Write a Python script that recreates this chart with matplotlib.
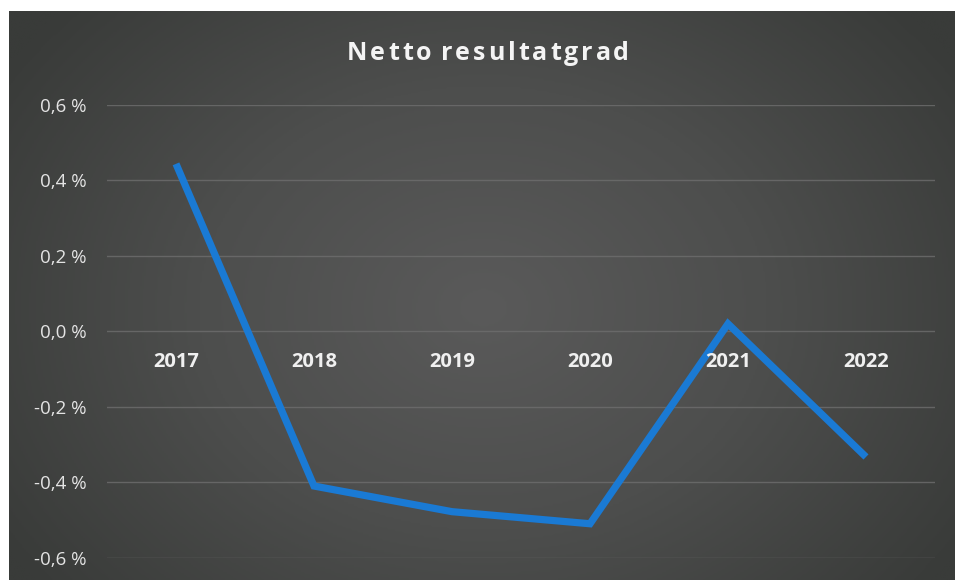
import numpy as np
import matplotlib
matplotlib.use("Agg")
import matplotlib.pyplot as plt
from matplotlib.colors import LinearSegmentedColormap
from matplotlib.ticker import FuncFormatter

years = ["2017", "2018", "2019", "2020", "2021", "2022"]
netto_resultatgrad = [0.444, -0.41, -0.478, -0.51, 0.02, -0.333]  # prosent
y_ticks = [-0.6, -0.4, -0.2, 0.0, 0.2, 0.4, 0.6]
title = "Netto resultatgrad"

W, H, DPI = 955, 580, 100
fig = plt.figure(figsize=(W / DPI, H / DPI), dpi=DPI, facecolor="white")

# Chart area with a soft radial shading
bg = fig.add_axes([9 / W, 0, 1 - 9 / W, 1 - 11 / H])
bg.set_axis_off()
ny, nx = 300, 500
yy, xx = np.mgrid[0:ny, 0:nx]
cx, cy = nx * 0.50, ny * 0.52
r = np.sqrt(((xx - cx) / (nx * 0.60)) ** 2 + ((yy - cy) / (ny * 0.78)) ** 2)
r = np.clip(r, 0, 1)
shade = LinearSegmentedColormap.from_list("shade", ["#5a5a5a", "#4d4e4d", "#393b39"])
bg.imshow(r, cmap=shade, aspect="auto", extent=[0, 1, 0, 1], vmin=0, vmax=1)
bg.set_xlim(0, 1)
bg.set_ylim(0, 1)

ax = fig.add_axes([107 / W, 1 - 557.7 / H, 828 / W, (557.7 - 105) / H])
ax.set_facecolor("none")
x = np.arange(len(years))
ax.plot(x, netto_resultatgrad, color="#1a7ad4", lw=5.2, solid_joinstyle="miter",
        solid_capstyle="butt", zorder=3)

ax.set_xlim(-0.5, len(years) - 0.5)
ax.set_ylim(-0.6, 0.6)
ax.set_yticks(y_ticks)
ax.yaxis.set_major_formatter(FuncFormatter(lambda v, _: f"{v:.1f} %".replace(".", ",")))
ax.tick_params(axis="y", length=0, pad=15, labelsize=13.5, labelcolor="#e4e4e4")
for lab in ax.get_yticklabels():
    lab.set_fontfamily("Open Sans")
ax.set_xticks([])
ax.grid(axis="y", color="#6e6e6e", lw=1.0, alpha=0.8)
for s in ax.spines.values():
    s.set_visible(False)

# Category labels sit next to the zero line
for i, yr in enumerate(years):
    ax.annotate(yr, xy=(i, 0), xytext=(0, -22), textcoords="offset points",
                ha="center", va="center", fontsize=14.5, fontweight="bold",
                color="#f0f0f0", family="Open Sans", zorder=4)

# Letter-spaced title, placed character by character
renderer = fig.canvas.get_renderer()
tkw = dict(fontsize=18, fontweight="bold", color="#f4f4f4", family="Open Sans")


def text_width(s):
    t = fig.text(0, 0, s, **tkw)
    w = t.get_window_extent(renderer).width
    t.remove()
    return w


# extra pixels after each character (word gap kept tight)
gaps = [0.0 if ch == " " else 3.0 for ch in title]
advances = []
pos = 0.0
for i, ch in enumerate(title):
    advances.append(pos)
    pos = (text_width(title[:i + 1]) if title[:i + 1].strip() else 0.0)
    pos += sum(gaps[:i + 1])
full_w = text_width(title) + sum(gaps[:-1])
x0 = 488 - full_w / 2
for ch, adv in zip(title, advances):
    if ch != " ":
        fig.text((x0 + adv) / W, 1 - 53 / H, ch, ha="left", va="center", **tkw)

fig.savefig("out.png", dpi=DPI, facecolor="white")
